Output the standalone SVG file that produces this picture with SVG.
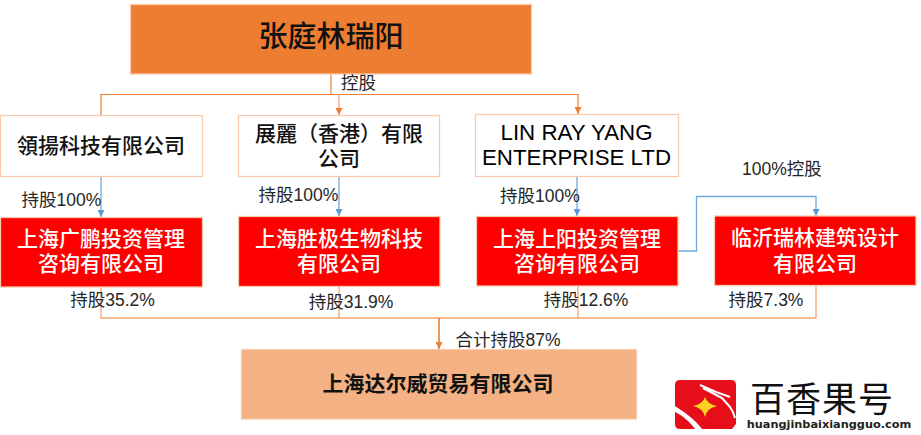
<svg xmlns="http://www.w3.org/2000/svg" width="921" height="435" viewBox="0 0 921 435">
<style>
text{font-family:"Noto Sans CJK SC","Liberation Sans",sans-serif;text-anchor:middle}
.lbl{font-size:17.500px;fill:#262626;font-family:"Liberation Sans","Noto Sans CJK SC",sans-serif}
.box{fill:#fff;stroke:#f8cbad;stroke-width:1.3}
.red{fill:#f00;stroke:#f8cbad;stroke-width:1.3}
.bt{font-size:21px;font-weight:500;fill:#111}
.rt{font-size:21px;font-weight:500;fill:#fff}
.en{font-size:22.300px;fill:#000;font-family:"Liberation Sans",sans-serif}
.o{fill:none;stroke:#f4a46e;stroke-width:1.3}
.od{fill:none;stroke:#ed7d31;stroke-width:1.2}
.b{fill:none;stroke:#6fa8dc;stroke-width:1.3}
</style>
<defs>
<marker id="ao" markerUnits="userSpaceOnUse" markerWidth="8" markerHeight="7" refX="7" refY="3.5" orient="auto"><path d="M0 0L7 3.5L0 7Z" fill="#ed7d31"/></marker>
<marker id="ab" markerUnits="userSpaceOnUse" markerWidth="8" markerHeight="7" refX="7" refY="3.5" orient="auto"><path d="M0 0L7 3.5L0 7Z" fill="#5b9bd5"/></marker>
</defs>
<g id="connectors">
<path class="od" d="M331 74V94.500"/>
<path class="od" d="M101 115V94.500H578V114" marker-end="url(#ao)"/>
<path class="o" d="M339 94.500V115" marker-end="url(#ao)"/>
<path class="b" d="M101 176V217" marker-end="url(#ab)"/>
<path class="b" d="M339 176V216" marker-end="url(#ab)"/>
<path class="b" d="M577 177V216" marker-end="url(#ab)"/>
<path class="b" d="M678 251H696.500V196.500H816V216" marker-end="url(#ab)"/>
<path class="o" d="M101 287V318H816V285"/>
<path class="o" d="M339 286V318"/>
<path class="o" d="M578 286V318"/>
<path d="M439 318V349" fill="none" stroke="#ed7d31" stroke-width="1.6" marker-end="url(#ao)"/>
</g>
<g id="top"><rect x="130.500" y="4.500" width="401" height="69.500" fill="#ed7d31" stroke="#f8cbad" stroke-width="1.300"/><text x="331" y="47" style="font-size:29px;font-weight:500;fill:#111">张庭林瑞阳</text></g>
<g id="n1"><rect class="box" x="0.500" y="115.500" width="202" height="61"/><text class="bt" x="101" y="153">領揚科技有限公司</text></g>
<g id="n2"><rect class="box" x="238.500" y="115.500" width="201" height="61"/><text class="bt" x="339" y="141">展麗（香港）有限<tspan x="339" dy="25">公司</tspan></text></g>
<g id="n3"><rect class="box" x="475.500" y="114.500" width="203" height="62"/><text class="en" x="576.500" y="140">LIN RAY YANG<tspan x="576.500" dy="25">ENTERPRISE LTD</tspan></text></g>
<g id="r1"><rect class="red" x="0.500" y="217.500" width="202" height="69.500"/><text class="rt" x="101" y="246">上海广鹏投资管理<tspan x="101" dy="25">咨询有限公司</tspan></text></g>
<g id="r2"><rect class="red" x="238.500" y="216.500" width="201.500" height="70"/><text class="rt" x="339" y="246">上海胜极生物科技<tspan x="339" dy="25">有限公司</tspan></text></g>
<g id="r3"><rect class="red" x="476.500" y="216.500" width="201.500" height="69.500"/><text class="rt" x="577" y="246">上海上阳投资管理<tspan x="577" dy="25">咨询有限公司</tspan></text></g>
<g id="r4"><rect class="red" x="714.500" y="216" width="201.500" height="69.500"/><text class="rt" x="815" y="245">临沂瑞林建筑设计<tspan x="815" dy="26">有限公司</tspan></text></g>
<g id="bottom"><rect x="241.500" y="349.500" width="395" height="69.500" fill="#f4b183" stroke="#f8cbad" stroke-width="1.300"/><text x="438" y="391" style="font-size:21px;font-weight:700;fill:#111">上海达尔威贸易有限公司</text></g>
<g id="labels">
<text class="lbl" x="358.500" y="89">控股</text>
<text class="lbl" x="61.500" y="206">持股100%</text>
<text class="lbl" x="298.500" y="201">持股100%</text>
<text class="lbl" x="540" y="202">持股100%</text>
<text class="lbl" x="782" y="175">100%控股</text>
<text class="lbl" x="112.500" y="306">持股35.2%</text>
<text class="lbl" x="351" y="308">持股31.9%</text>
<text class="lbl" x="586" y="306">持股12.6%</text>
<text class="lbl" x="766" y="306">持股7.3%</text>
<text class="lbl" x="508" y="346">合计持股87%</text>
</g>
<g id="logo">
<path d="M680 380H731Q736 380 736 385V424L732 429H702C695 420 686 413 675 406V385Q675 380 680 380Z" fill="#e60f19"/>
<path d="M675 412C683 416 690 422 695 429H680Q675 429 675 424Z" fill="#e60f19"/>
<path d="M705 397Q707 404 717 406Q707 408 705 417Q703 408 693 406Q703 404 705 397Z" fill="#ffd21f"/>
<path d="M700 385L716 392L730 397M703 388L722 398L730 407C733 411 734 414 735 418" fill="none" stroke="#fff" stroke-width="2"/>
<text x="822" y="412" style="font-size:35px;fill:#111;letter-spacing:1px;font-family:'Noto Sans CJK SC',sans-serif">百香果号</text>
<text x="829" y="428" style="font-size:11.300px;font-weight:700;fill:#222;font-family:'DejaVu Sans',sans-serif">huangjinbaixiangguo.com</text>
</g>
</svg>
